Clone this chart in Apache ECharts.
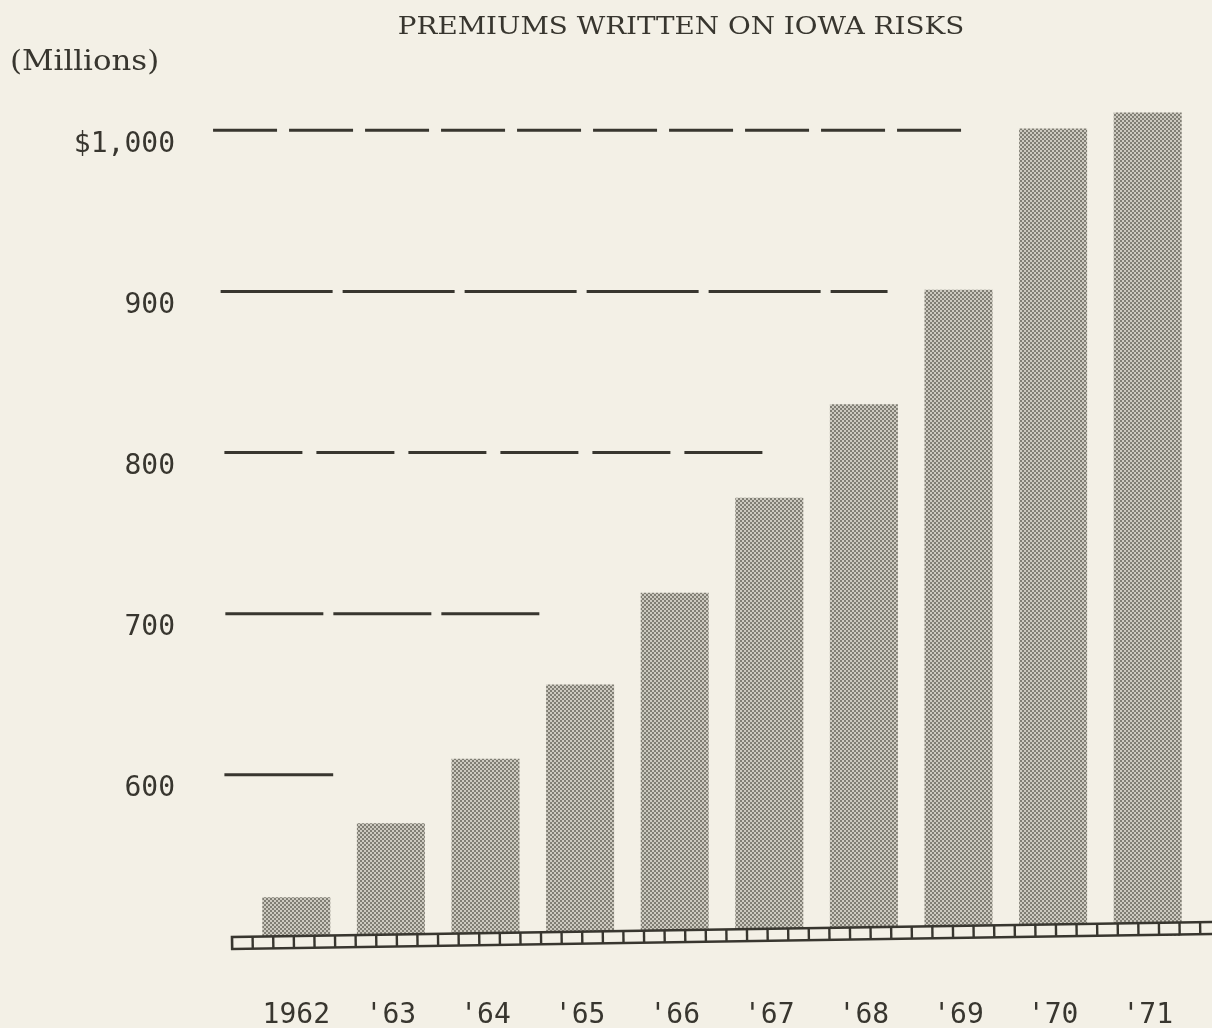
<!DOCTYPE html>
<html>
<head>
<meta charset="utf-8">
<style>
  html, body { margin: 0; padding: 0; background: #f3f0e6; }
  #chart { width: 1212px; height: 1028px; }
</style>
<script src="https://cdn.jsdelivr.net/npm/echarts@6/dist/echarts.min.js"></script>
</head>
<body>
<div id="chart"></div>
<script>
// Premiums written on Iowa risks, millions of dollars
const years = ['1962', "'63", "'64", "'65", "'66", "'67", "'68", "'69", "'70", "'71"];
const premiums = [524, 570, 610, 656, 713, 772, 830, 901, 1001, 1011];

const yTickValues = [600, 700, 800, 900, 1000];
const yTickLabels = ['600', '700', '800', '900', '$1,000'];

const titleText = 'PREMIUMS WRITTEN ON IOWA RISKS';
const unitText = '(Millions)';

// Dashed reference rules at each labelled level; each stops short of the taller bars.
// from / to are in category-index units (bar centres sit at 0, 1, 2 ...).
const ruleStyles = [
  { from: -0.76, to: 0.39, dash: 'solid' },
  { from: -0.75, to: 2.57, dash: [98, 10] },
  { from: -0.76, to: 5.0, dash: [78, 14] },
  { from: -0.80, to: 6.25, dash: [112, 10] },
  { from: -0.88, to: 7.14, dash: [64, 12] }
];

const W = 1212, H = 1028;
const GRID = { left: 249, right: 17, top: 98, bottom: 92 };
const BAND = (W - GRID.left - GRID.right) / years.length;
const Y_MIN = 500, Y_MAX = 1020;

const INK = '#38362f';
const PAPER = '#f3f0e6';
const MONO = '"DejaVu Sans Mono", "Liberation Mono", monospace';
const SERIF = '"DejaVu Serif", "Liberation Serif", serif';

// screened grey fill for the bars
function halftone() {
  const c = document.createElement('canvas');
  c.width = 4; c.height = 4;
  const g = c.getContext('2d');
  g.fillStyle = '#cdcac0';
  g.fillRect(0, 0, 4, 4);
  g.fillStyle = '#807e74';
  g.fillRect(0, 0, 2, 2);
  g.fillRect(2, 2, 2, 2);
  return c;
}

const chart = echarts.init(document.getElementById('chart'), null, { renderer: 'canvas' });

// rules live on a full-width helper grid whose x axis is in category-index units,
// so they can reach left of the first bar's band
const ruleSeries = yTickValues.map((v, i) => ({
  type: 'line',
  xAxisIndex: 1,
  yAxisIndex: 1,
  data: [[ruleStyles[i].from, v], [ruleStyles[i].to, v]],
  symbol: 'none',
  silent: true,
  z: 3,
  lineStyle: { color: INK, width: 3, type: ruleStyles[i].dash, cap: 'butt' }
}));

chart.setOption({
  backgroundColor: PAPER,
  animation: false,
  grid: [
    { left: GRID.left, right: GRID.right, top: GRID.top, bottom: GRID.bottom, containLabel: false, outerBoundsMode: 'none' },
    { left: 0, right: 0, top: GRID.top, bottom: GRID.bottom, containLabel: false, outerBoundsMode: 'none' }
  ],
  xAxis: [
    {
      type: 'category',
      gridIndex: 0,
      data: years,
      axisLine: { show: false },
      axisTick: { show: false },
      axisLabel: { color: INK, fontFamily: MONO, fontSize: 28, margin: 66 }
    },
    {
      type: 'value',
      gridIndex: 1,
      min: -0.5 - GRID.left / BAND,
      max: years.length - 0.5 + GRID.right / BAND,
      show: false
    }
  ],
  yAxis: [
    {
      type: 'value',
      gridIndex: 0,
      min: Y_MIN,
      max: Y_MAX,
      interval: 100,
      axisLine: { show: false },
      axisTick: { show: false },
      splitLine: { show: false },
      axisLabel: {
        color: INK,
        fontFamily: MONO,
        fontSize: 28,
        margin: 74,
        verticalAlign: 'top',
        formatter: v => {
          const i = yTickValues.indexOf(v);
          return i >= 0 ? yTickLabels[i] : '';
        }
      }
    },
    { type: 'value', gridIndex: 1, min: Y_MIN, max: Y_MAX, show: false }
  ],
  series: [
    {
      type: 'bar',
      xAxisIndex: 0,
      yAxisIndex: 0,
      data: premiums,
      barWidth: 68,
      z: 2,
      itemStyle: { color: { image: halftone(), repeat: 'repeat' } }
    }
  ].concat(ruleSeries)
});

// Base strip: a ladder-like ruled band the bars stand on, laid slightly askew.
const baseY = chart.convertToPixel({ yAxisIndex: 0 }, Y_MIN);
const stripLeft = 232;
const stripLen = 1000;
const stripH = 12;
const cell = 20.6;
const stripChildren = [
  { type: 'rect', z: 10, shape: { x: 0, y: 0, width: stripLen, height: stripH },
    style: { fill: PAPER, stroke: INK, lineWidth: 2.6 } }
];
for (let x = cell; x < stripLen; x += cell) {
  stripChildren.push({ type: 'line', z: 11, shape: { x1: x, y1: 0, x2: x, y2: stripH },
    style: { stroke: INK, lineWidth: 2.4 } });
}

chart.setOption({
  graphic: [
    {
      id: 'title', type: 'text', x: 681, y: 27, z: 10, scaleX: 1.11,
      style: { text: titleText, font: '25px ' + SERIF, fill: INK, stroke: 'none', lineWidth: 0,
               textAlign: 'center', textVerticalAlign: 'middle' }
    },
    {
      id: 'unit', type: 'text', x: 10, y: 63, z: 10, scaleX: 1.1,
      style: { text: unitText, font: '28px ' + SERIF, fill: INK, stroke: 'none', lineWidth: 0,
               textAlign: 'left', textVerticalAlign: 'middle' }
    },
    {
      id: 'strip', type: 'group', x: stripLeft, y: baseY + 1, rotation: 0.0153,
      children: stripChildren
    }
  ]
});
</script>
</body>
</html>
